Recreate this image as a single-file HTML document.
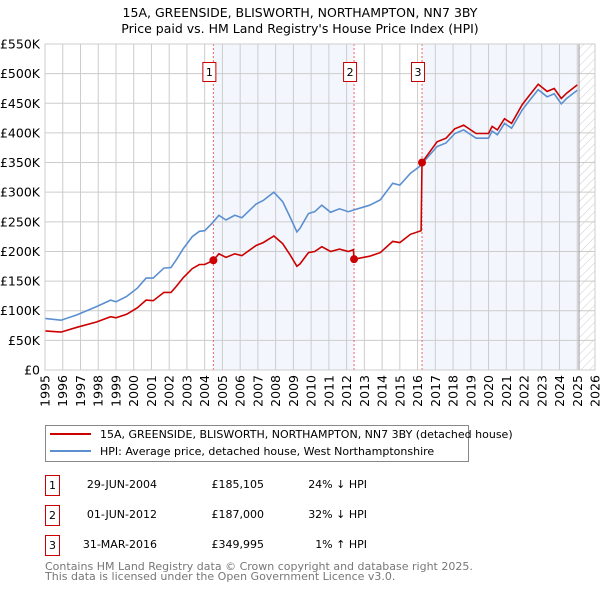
<!DOCTYPE html>
<html><head><meta charset="utf-8"><style>
body{margin:0;background:#fff;font-family:"DejaVu Sans","Liberation Sans",sans-serif;}
svg text{font-family:"DejaVu Sans","Liberation Sans",sans-serif;}
</style></head><body>
<svg id="c" width="600" height="590" viewBox="0 0 600 590" xmlns="http://www.w3.org/2000/svg">
<defs><pattern id="hatch" width="6" height="6" patternUnits="userSpaceOnUse" patternTransform="rotate(45)"><line x1="0" y1="0" x2="0" y2="6" stroke="#ccc" stroke-width="1"/></pattern></defs>
<text x="300" y="17" text-anchor="middle" font-size="12.5" fill="#000">15A, GREENSIDE, BLISWORTH, NORTHAMPTON, NN7 3BY</text>
<text x="300" y="33" text-anchor="middle" font-size="12.5" fill="#000">Price paid vs. HM Land Registry's House Price Index (HPI)</text>
<g id="bg"></g><g id="grid"></g><g id="lines"></g><g id="marks"></g><g id="axes"></g>
<g>
<rect x="45.5" y="425.5" width="423" height="36" fill="#fff" stroke="#888"/>
<line x1="50" y1="434" x2="91" y2="434" stroke="#cc0000" stroke-width="2"/>
<text x="100" y="438" font-size="11">15A, GREENSIDE, BLISWORTH, NORTHAMPTON, NN7 3BY (detached house)</text>
<line x1="50" y1="451" x2="91" y2="451" stroke="#5b8fd0" stroke-width="2"/>
<text x="100" y="455" font-size="11">HPI: Average price, detached house, West Northamptonshire</text>
</g>
<g font-size="11">
<rect x="45.5" y="475.5" width="14" height="20" fill="#fff" stroke="#cc0000"/><text x="52.5" y="489" text-anchor="middle">1</text>
<text x="157" y="488" text-anchor="end">29-JUN-2004</text><text x="264" y="488" text-anchor="end">£185,105</text><text x="367" y="488" text-anchor="end">24% ↓ HPI</text>
<rect x="45.5" y="505.5" width="14" height="20" fill="#fff" stroke="#cc0000"/><text x="52.5" y="519" text-anchor="middle">2</text>
<text x="157" y="518" text-anchor="end">01-JUN-2012</text><text x="264" y="518" text-anchor="end">£187,000</text><text x="367" y="518" text-anchor="end">32% ↓ HPI</text>
<rect x="45.5" y="535.5" width="14" height="20" fill="#fff" stroke="#cc0000"/><text x="52.5" y="549" text-anchor="middle">3</text>
<text x="157" y="548" text-anchor="end">31-MAR-2016</text><text x="264" y="548" text-anchor="end">£349,995</text><text x="367" y="548" text-anchor="end">1% ↑ HPI</text>
</g>
<text x="45" y="570" font-size="11" fill="#777">Contains HM Land Registry data © Crown copyright and database right 2025.</text>
<text x="45" y="580" font-size="11" fill="#777">This data is licensed under the Open Government Licence v3.0.</text>
</svg>
<script>
const hpiYears=[1995.0,1995.9,1996.8,1997.9,1998.7,1999.0,1999.6,2000.2,2000.7,2001.1,2001.7,2002.1,2002.4,2002.8,2003.3,2003.7,2004.0,2004.4,2004.8,2005.2,2005.7,2006.1,2006.9,2007.3,2007.9,2008.4,2008.8,2009.2,2009.37,2009.85,2010.2,2010.6,2011.1,2011.6,2012.1,2012.4,2013.3,2013.9,2014.6,2015.0,2015.6,2016.1,2017.1,2017.6,2018.1,2018.6,2019.3,2020.0,2020.2,2020.5,2020.9,2021.3,2021.9,2022.4,2022.8,2023.3,2023.7,2024.1,2024.4,2025.0];
const hpiValues=[87,84,93,107,118,115,124,138,155,155,172,173,186,205,225,234,235,247,261,253,261,257,280,286,300,284,259,233,239,264,267,278,266,272,267,270,278,287,315,312,332,343,377,383,399,405,391,391,403,397,416,408,439,458,473,461,466,449,458,472];
const propYears=[1995.0,1995.9,1996.8,1997.9,1998.7,1999.0,1999.6,2000.2,2000.7,2001.1,2001.7,2002.1,2002.4,2002.8,2003.3,2003.7,2004.0,2004.49,2004.8,2005.2,2005.7,2006.1,2006.9,2007.3,2007.9,2008.4,2008.8,2009.2,2009.37,2009.85,2010.2,2010.6,2011.1,2011.6,2012.1,2012.38,2012.42,2013.3,2013.9,2014.6,2015.0,2015.6,2016.2,2016.25,2017.1,2017.6,2018.1,2018.6,2019.3,2020.0,2020.2,2020.5,2020.9,2021.3,2021.9,2022.4,2022.8,2023.3,2023.7,2024.1,2024.4,2025.0];
const propValues=[66,64,72,81,90,88,94,105,118,117,131,131,141,156,171,178,178,185,196,190,196,193,210,215,226,213,195,175,179,198,200,208,200,204,200,203,187,192,198,217,215,229,235,350,385,391,407,413,399,399,411,405,424,416,448,467,482,470,475,458,467,481];
const saleYears=[2004.49,2012.42,2016.25];
const saleValues=[185.105,187,349.995];
const saleLabels=["1","2","3"];
const yTicks=[0,50,100,150,200,250,300,350,400,450,500,550];
const yTickLabels=["£0","£50K","£100K","£150K","£200K","£250K","£300K","£350K","£400K","£450K","£500K","£550K"];
const xTickYears=[1995,1996,1997,1998,1999,2000,2001,2002,2003,2004,2005,2006,2007,2008,2009,2010,2011,2012,2013,2014,2015,2016,2017,2018,2019,2020,2021,2022,2023,2024,2025,2026];
const dataEnd=2025.1;

const NS="http://www.w3.org/2000/svg";
const L=45,R=595,T=44,B=370,X0=1995,X1=2026,YMAX=550;
const xs=y=>L+(y-X0)/(X1-X0)*(R-L);
const ys=v=>B-v/YMAX*(B-T);
function mk(tag,attrs,parent){const e=document.createElementNS(NS,tag);for(const k in attrs)e.setAttribute(k,attrs[k]);parent.appendChild(e);return e;}
const bg=document.getElementById('bg'),grid=document.getElementById('grid'),lines=document.getElementById('lines'),marks=document.getElementById('marks'),axes=document.getElementById('axes');
// shaded regions
let r1=mk('rect',{x:xs(saleYears[0]),y:T,width:xs(saleYears[1])-xs(saleYears[0]),height:B-T,fill:'#eef3fc',opacity:0.7},bg);


let r2=mk('rect',{x:xs(saleYears[2]),y:T,width:xs(dataEnd)-xs(saleYears[2]),height:B-T,fill:'#eef3fc',opacity:0.7},bg);


let h=mk('rect',{x:xs(dataEnd),y:T,width:R-xs(dataEnd),height:B-T,fill:'url(#hatch)'},bg);


// grid
yTicks.forEach((v,i)=>{
 let g=mk('line',{x1:L,x2:R,y1:ys(v),y2:ys(v),stroke:'#ccc','stroke-width':1},grid);
 
 
 let t=mk('text',{x:L-5,y:ys(v)+4.5,'text-anchor':'end','font-size':12.5,fill:'#000'},axes);
 t.textContent=yTickLabels[i];
 
 
});
xTickYears.forEach(yr=>{
 let g=mk('line',{x1:xs(yr),x2:xs(yr),y1:T,y2:B,stroke:'#ccc','stroke-width':1},grid);
 
 
 let t=mk('text',{x:0,y:0,'text-anchor':'end','font-size':12.5,transform:`translate(${xs(yr)+4.5},${B+5}) rotate(-90)`},axes);
 t.textContent=yr;
 
 
});
let vl=mk('line',{x1:xs(dataEnd),x2:xs(dataEnd),y1:T,y2:B,stroke:'#999','stroke-width':1},grid);


// sale markers
saleYears.forEach((yr,i)=>{
 let d=mk('line',{x1:xs(yr),x2:xs(yr),y1:T,y2:B,stroke:'#ee6666','stroke-width':1,'stroke-dasharray':'2,2'},grid);
 
 
 let b=mk('rect',{x:xs(yr)-10.5,y:62.5,width:13,height:19,fill:'#fff',stroke:'#cc0000'},marks);
 
 
 let t=mk('text',{x:xs(yr)-4,y:76,'text-anchor':'middle','font-size':11},marks);
 t.textContent=saleLabels[i];
 
 
});
function path(xa,va){return xa.map((y,i)=>(i?'L':'M')+xs(y).toFixed(1)+','+ys(va[i]).toFixed(1)).join('');}
let hp=mk('path',{d:path(hpiYears,hpiValues),fill:'none',stroke:'#5b8fd0','stroke-width':1.6},lines);


let pp=mk('path',{d:path(propYears,propValues),fill:'none',stroke:'#cc0000','stroke-width':1.6},lines);


saleYears.forEach((yr,i)=>{
 let c=mk('circle',{cx:xs(yr),cy:ys(saleValues[i]),r:4,fill:'#cc0000'},marks);
 
 
});
let fr=mk('rect',{x:L,y:T,width:R-L,height:B-T,fill:'none',stroke:'#ccc'},axes);


</script>
</body></html>
